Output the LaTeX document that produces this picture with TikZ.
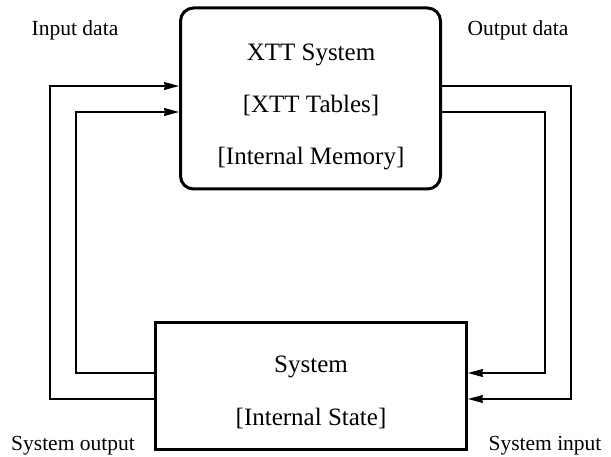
\documentclass[tikz,border=0pt]{standalone}
\usepackage{fontspec}
\setmainfont{Liberation Serif}
\usetikzlibrary{arrows.meta}
\begin{document}
\begin{tikzpicture}[x=1pt,y=-1pt,
  boxstyle/.style={draw,line width=3pt,inner sep=0pt},
  conn/.style={line width=1.4pt},
  arr/.style={conn,-{Stealth[length=15pt,width=8pt,inset=1pt]}},
  boxtext/.style={anchor=base,inner sep=0pt,font=\fontsize{25}{29}\selectfont},
  lbl/.style={anchor=base,inner sep=0pt,font=\fontsize{21.5}{25}\selectfont}]
\useasboundingbox (0,0) rectangle (611,457);
\node[boxstyle,rounded corners=13pt,minimum width=260pt,minimum height=181pt] (top) at (310.5,98.5) {};
\node[boxstyle,minimum width=311pt,minimum height=126pt] (bot) at (311,386) {};
\node[boxtext] (t1) at (311,61) {XTT System};
\node[boxtext] (t2) at (311,113) {[XTT Tables]};
\node[boxtext] (t3) at (311,165) {[Internal Memory]};
\node[boxtext] (b1) at (311,373) {System};
\node[boxtext] (b2) at (311,425) {[Internal State]};
\node[lbl] (lin) at (75,36) {Input data};
\node[lbl] (lout) at (518,36) {Output data};
\node[lbl] (lso) at (73,450) {System output};
\node[lbl] (lsi) at (545,450) {System input};
\coordinate (ro1) at (571,86);
\coordinate (ro2) at (571,399);
\coordinate (ri1) at (545,112);
\coordinate (ri2) at (545,373);
\coordinate (lo1) at (50,86);
\coordinate (lo2) at (50,399);
\coordinate (li1) at (76,112);
\coordinate (li2) at (76,373);
\draw[arr] (top.east |- ro1) -- (ro1) -- (ro2) -- (bot.east |- ro2);
\draw[arr] (top.east |- ri1) -- (ri1) -- (ri2) -- (bot.east |- ri2);
\draw[arr] (bot.west |- lo2) -- (lo2) -- (lo1) -- (top.west |- lo1);
\draw[arr] (bot.west |- li2) -- (li2) -- (li1) -- (top.west |- li1);
\end{tikzpicture}
\end{document}
